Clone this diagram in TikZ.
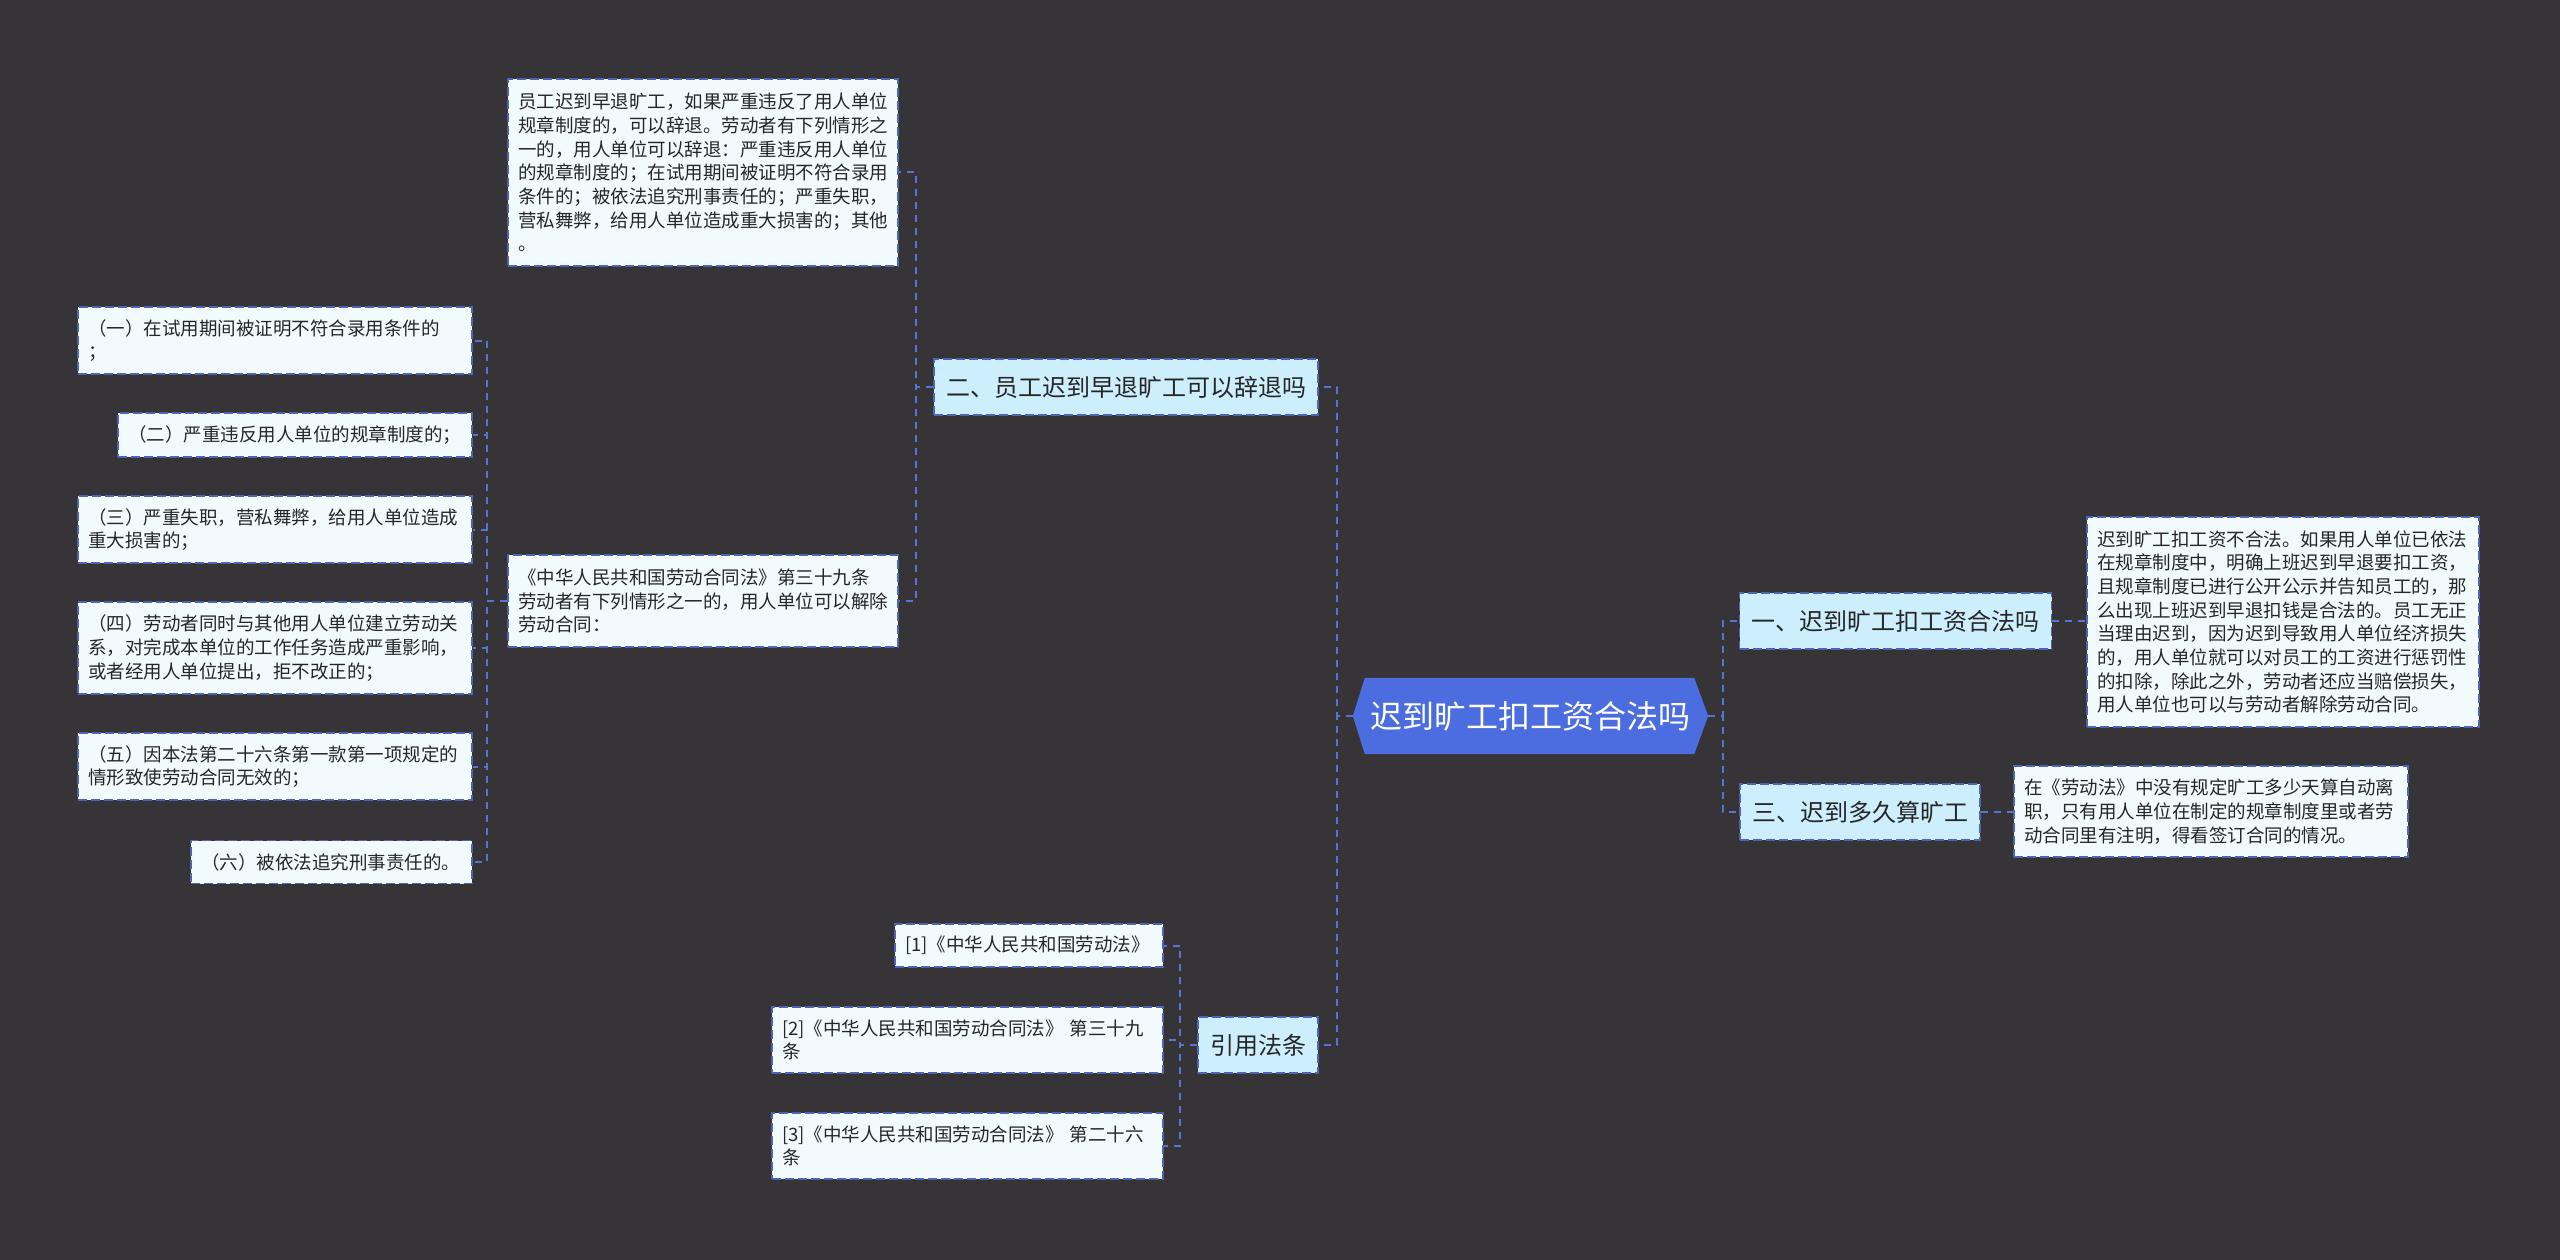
\documentclass[tikz,border=0pt]{standalone}
\usepackage{fontspec}
\setmainfont{Noto Sans CJK SC}
\usetikzlibrary{backgrounds}
\definecolor{bgcol}{HTML}{363437}
\definecolor{leaffill}{HTML}{F1FBFE}
\definecolor{branchfill}{HTML}{CDEEFC}
\definecolor{bordercol}{HTML}{4D64B8}
\definecolor{conncol}{HTML}{5574D4}
\definecolor{centerfill}{HTML}{4B6DDF}
\definecolor{txtcol}{HTML}{262626}
\newcommand\leaffont{\fontsize{18.5pt}{23.7pt}\selectfont}
\newcommand\branchfont{\fontsize{24pt}{28pt}\selectfont}
\newcommand\centerfont{\fontsize{32pt}{36pt}\selectfont}
\tikzset{
  leafbox/.style={draw=bordercol, line width=1.8pt, dash pattern=on 9pt off 4pt,
    fill=leaffill, inner xsep=10pt, inner ysep=0pt, align=left, font=\leaffont, text=txtcol},
  branchbox/.style={draw=bordercol, line width=1.8pt, dash pattern=on 9pt off 4pt,
    fill=branchfill, inner xsep=12pt, inner ysep=0pt, minimum height=56pt, align=center,
    font=\branchfont, text=txtcol},
  centerbox/.style={inner sep=0pt, minimum width=355pt, minimum height=76pt,
    font=\centerfont, text=white},
  conn/.style={draw=conncol, line width=2pt, dash pattern=on 7pt off 6pt}
}
\begin{document}
\begin{tikzpicture}[x=1pt,y=-1pt]
\useasboundingbox (0,0) rectangle (2560,1260);

% center
\node[centerbox] (c) at (1530.5,716) {迟到旷工扣工资合法吗};

% branches
\node[branchbox] (b2) at (1126,387) {二、员工迟到早退旷工可以辞退吗};
\node[branchbox] (b1) at (1895.5,621) {一、迟到旷工扣工资合法吗};
\node[branchbox] (b3) at (1860,812) {三、迟到多久算旷工};
\node[branchbox] (ref) at (1258,1045) {引用法条};

% branch 二 children
\node[leafbox, text width=370pt, minimum height=187pt] (top) at (703,172.5) {员工迟到早退旷工，如果严重违反了用人单位\\规章制度的，可以辞退。劳动者有下列情形之\\一的，用人单位可以辞退：严重违反用人单位\\的规章制度的；在试用期间被证明不符合录用\\条件的；被依法追究刑事责任的；严重失职，\\营私舞弊，给用人单位造成重大损害的；其他\\。};
\node[leafbox, text width=370pt, minimum height=92pt] (law) at (703,601) {《中华人民共和国劳动合同法》第三十九条\\劳动者有下列情形之一的，用人单位可以解除\\劳动合同：};

% items
\node[leafbox, text width=374pt, minimum height=67pt] (i1) at (275,340.5) {（一）在试用期间被证明不符合录用条件的\\；};
\node[leafbox, text width=334pt, minimum height=44pt] (i2) at (295,435) {（二）严重违反用人单位的规章制度的；};
\node[leafbox, text width=374pt, minimum height=67pt] (i3) at (275,529.5) {（三）严重失职，营私舞弊，给用人单位造成\\重大损害的；};
\node[leafbox, text width=374pt, minimum height=92pt] (i4) at (275,648) {（四）劳动者同时与其他用人单位建立劳动关\\系，对完成本单位的工作任务造成严重影响，\\或者经用人单位提出，拒不改正的；};
\node[leafbox, text width=374pt, minimum height=67pt] (i5) at (275,766.5) {（五）因本法第二十六条第一款第一项规定的\\情形致使劳动合同无效的；};
\node[leafbox, text width=261pt, minimum height=43pt] (i6) at (331.5,862) {（六）被依法追究刑事责任的。};

% right texts
\node[leafbox, text width=372pt, minimum height=210pt] (t1) at (2283,622) {迟到旷工扣工资不合法。如果用人单位已依法\\在规章制度中，明确上班迟到早退要扣工资，\\且规章制度已进行公开公示并告知员工的，那\\么出现上班迟到早退扣钱是合法的。员工无正\\当理由迟到，因为迟到导致用人单位经济损失\\的，用人单位就可以对员工的工资进行惩罚性\\的扣除，除此之外，劳动者还应当赔偿损失，\\用人单位也可以与劳动者解除劳动合同。};
\node[leafbox, text width=374pt, minimum height=91pt] (t3) at (2211,811.5) {在《劳动法》中没有规定旷工多少天算自动离\\职，只有用人单位在制定的规章制度里或者劳\\动合同里有注明，得看签订合同的情况。};

% references
\node[leafbox, text width=248pt, minimum height=43pt] (r1) at (1029,945.5) {[1]《中华人民共和国劳动法》};
\node[leafbox, text width=371pt, minimum height=66pt] (r2) at (967.5,1040) {[2]《中华人民共和国劳动合同法》 第三十九\\条};
\node[leafbox, text width=371pt, minimum height=66pt] (r3) at (967.5,1146) {[3]《中华人民共和国劳动合同法》 第二十六\\条};

\begin{scope}[on background layer]
  \fill[bgcol] (0,0) rectangle (2560,1260);
  \fill[centerfill] ([xshift=12pt]c.north west) -- ([xshift=-14pt]c.north east) -- (c.east)
    -- ([xshift=-14pt]c.south east) -- ([xshift=12pt]c.south west) -- (c.west) -- cycle;
\end{scope}

% connectors
\draw[conn] (c.west) -- ++(-16,0) |- (b2.east);
\draw[conn] (c.west) -- ++(-16,0) |- (ref.east);
\draw[conn] (c.east) -- ++(15,0) |- (b1.west);
\draw[conn] (c.east) -- ++(15,0) |- (b3.west);
\draw[conn] (b2.west) -- ++(-17,0) |- (top.east);
\draw[conn] (b2.west) -- ++(-17,0) |- (law.east);
\foreach \n in {i1,i2,i3,i4,i5,i6}
  \draw[conn] (law.west) -- ++(-20,0) |- (\n.east);
\foreach \n in {r1,r2,r3}
  \draw[conn] (ref.west) -- ++(-17,0) |- (\n.east);
\draw[conn] (b1.east) -- (b1.east -| t1.west);
\draw[conn] (b3.east) -- (b3.east -| t3.west);
\end{tikzpicture}
\end{document}
